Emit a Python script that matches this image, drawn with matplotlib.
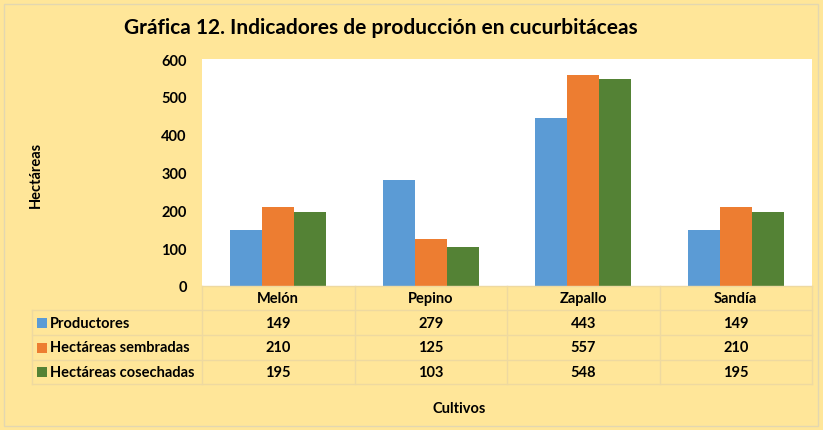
import numpy as np
import matplotlib.pyplot as plt
from matplotlib.patches import Rectangle

plt.rcParams['font.family'] = ['Lato', 'DejaVu Sans']
plt.rcParams['font.weight'] = 'bold'

# datos
cultivos = ['Melón', 'Pepino', 'Zapallo', 'Sandía']
series = ['Productores', 'Hectáreas sembradas', 'Hectáreas cosechadas']
productores = [149, 279, 443, 149]
sembradas = [210, 125, 557, 210]
cosechadas = [195, 103, 548, 195]
valores = [productores, sembradas, cosechadas]
colores = ['#5B9BD5', '#ED7D31', '#548235']

W, H = 823, 431
fondo = '#FFE699'
linea = '#EED9A0'

fig = plt.figure(figsize=(W / 100, H / 100), dpi=100, facecolor=fondo)
fig.patches.append(Rectangle((4 / W, 4 / H), 1 - 9 / W, 1 - 9 / H, transform=fig.transFigure,
                             fill=False, edgecolor='#E3D7B0', linewidth=1))

# area del grafico en pixeles
x0, x1 = 202, 812
y_top, y_bot = 60, 287
ax = fig.add_axes([x0 / W, 1 - y_bot / H, (x1 - x0) / W, (y_bot - y_top) / H])
ax.set_facecolor('white')

x = np.arange(len(cultivos))
ancho = 0.21
for i, (v, c) in enumerate(zip(valores, colores)):
    ax.bar(x + (i - 1) * ancho, v, ancho, color=c)

ax.set_xlim(-0.5, len(cultivos) - 0.5)
ax.set_ylim(0, 600)
ax.set_yticks(range(0, 601, 100))
ax.set_xticks([])
ax.tick_params(axis='y', length=0, labelsize=10.5, pad=11)
for s in ax.spines.values():
    s.set_visible(False)

fig.text(381 / W, 1 - 28 / H, 'Gráfica 12. Indicadores de producción en cucurbitáceas',
         ha='center', va='center', fontsize=15)
fig.text(36 / W, 1 - 175 / H, 'Hectáreas', rotation=90, ha='center', va='center', fontsize=10.5)
fig.text(459 / W, 1 - 409 / H, 'Cultivos', ha='center', va='center', fontsize=10.5)

# tabla de datos
filas = [287, 311, 336, 361, 385]
t_left = 32
cols = np.linspace(x0, x1, len(cultivos) + 1)

def fx(px):
    return px / W

def fy(py):
    return 1 - py / H

def hline(xa, xb, y):
    fig.add_artist(plt.Line2D([fx(xa), fx(xb)], [fy(y), fy(y)], color=linea, linewidth=1))

def vline(xp, ya, yb):
    fig.add_artist(plt.Line2D([fx(xp), fx(xp)], [fy(ya), fy(yb)], color=linea, linewidth=1))

hline(x0, x1, filas[0])
for y in filas[1:]:
    hline(t_left, x1, y)
for c in cols:
    vline(c, filas[0], filas[-1])
vline(t_left, filas[1], filas[-1])

for j, nombre in enumerate(cultivos):
    xc = (cols[j] + cols[j + 1]) / 2
    fig.text(fx(xc), fy((filas[0] + filas[1]) / 2), nombre, ha='center', va='center', fontsize=10.5)

for i, (nombre, v, c) in enumerate(zip(series, valores, colores)):
    yc = (filas[i + 1] + filas[i + 2]) / 2
    fig.patches.append(Rectangle((fx(37), fy(yc + 5)), 10 / W, 10 / H, transform=fig.transFigure,
                                 facecolor=c, edgecolor='none'))
    fig.text(fx(50), fy(yc), nombre, ha='left', va='center', fontsize=10.5)
    for j, val in enumerate(v):
        xc = (cols[j] + cols[j + 1]) / 2
        fig.text(fx(xc), fy(yc), str(val), ha='center', va='center', fontsize=10.5)

fig.savefig('out.png', dpi=100, facecolor=fondo)
